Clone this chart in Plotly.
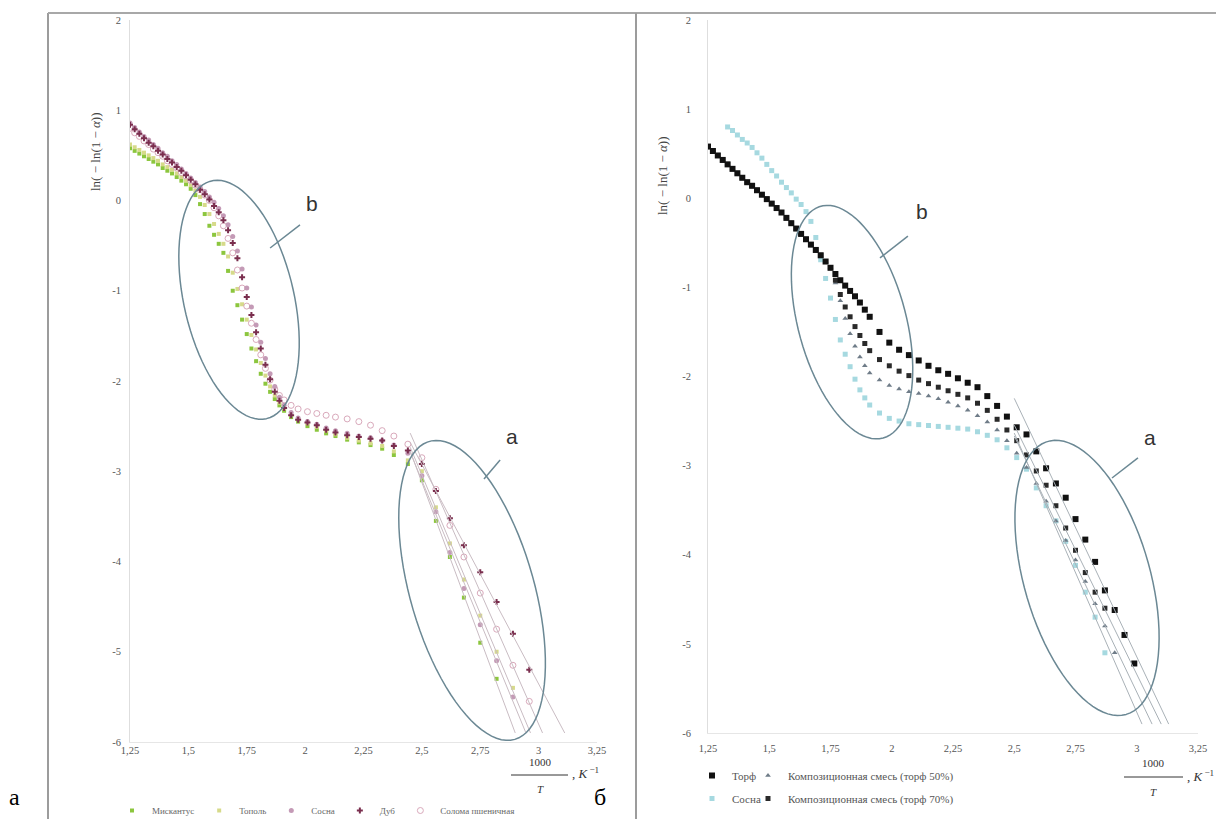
import numpy as np
import plotly.graph_objects as go

# the page body adds an 8 px margin; the figure is sized and positioned to compensate
PAGE_OFF = 8
W, H = 1224 - PAGE_OFF, 819 - PAGE_OFF

# ---------------- data ----------------
x_ticks = [1.25, 1.5, 1.75, 2.0, 2.25, 2.5, 2.75, 3.0, 3.25]
x_ticktext = ["1,25", "1,5", "1,75", "2", "2,25", "2,5", "2,75", "3", "3,25"]
y_ticks = [-6, -5, -4, -3, -2, -1, 0, 1, 2]
y_ticktext = ["-6", "-5", "-4", "-3", "-2", "-1", "0", "1", "2"]

# left panel (а): 1000/T grid and ln(-ln(1-a)) values
x_left = [1.25, 1.27, 1.29, 1.31, 1.33, 1.35, 1.37, 1.39, 1.41, 1.43,
          1.45, 1.47, 1.49, 1.51, 1.53, 1.55, 1.57, 1.59, 1.61, 1.63,
          1.65, 1.67, 1.69, 1.71, 1.73, 1.75, 1.77, 1.79, 1.81, 1.83,
          1.85, 1.87, 1.89, 1.91, 1.94, 1.97, 2.01, 2.05, 2.09, 2.13,
          2.18, 2.23, 2.28, 2.33, 2.38, 2.44, 2.50, 2.56, 2.62, 2.68,
          2.75, 2.82, 2.89, 2.96]
miscanthus = [0.58, 0.55, 0.52, 0.49, 0.46, 0.43, 0.40, 0.36, 0.33, 0.30,
              0.26, 0.22, 0.18, 0.13, 0.06, -0.04, -0.15, -0.28, -0.38, -0.48,
              -0.58, -0.78, -1.00, -1.16, -1.32, -1.48, -1.64, -1.78, -1.92, -2.03,
              -2.12, -2.20, -2.27, -2.33, -2.40, -2.45, -2.50, -2.54, -2.58, -2.61,
              -2.65, -2.68, -2.71, -2.75, -2.82, -2.92, -3.10, -3.55, -3.95, -4.40,
              -4.90, -5.30, None, None]
poplar = [0.62, 0.59, 0.56, 0.53, 0.50, 0.47, 0.44, 0.40, 0.37, 0.34,
          0.30, 0.26, 0.22, 0.17, 0.11, 0.04, -0.05, -0.15, -0.26, -0.37,
          -0.48, -0.62, -0.80, -0.98, -1.15, -1.32, -1.49, -1.65, -1.80, -1.94,
          -2.06, -2.16, -2.24, -2.30, -2.37, -2.42, -2.47, -2.51, -2.55, -2.59,
          -2.63, -2.66, -2.69, -2.72, -2.78, -2.88, -3.00, -3.40, -3.80, -4.20,
          -4.60, -5.00, -5.40, None]
pine_left = [0.86, 0.81, 0.76, 0.71, 0.67, 0.62, 0.58, 0.53, 0.49, 0.44,
             0.40, 0.35, 0.30, 0.25, 0.20, 0.15, 0.10, 0.04, -0.02, -0.09,
             -0.17, -0.27, -0.40, -0.56, -0.76, -0.97, -1.18, -1.38, -1.57, -1.75,
             -1.92, -2.06, -2.18, -2.27, -2.35, -2.41, -2.45, -2.48, -2.52, -2.55,
             -2.58, -2.61, -2.63, -2.66, -2.71, -2.80, -3.05, -3.45, -3.90, -4.30,
             -4.70, -5.10, -5.50, None]
oak = [0.84, 0.79, 0.74, 0.69, 0.64, 0.60, 0.55, 0.51, 0.46, 0.42,
       0.37, 0.33, 0.28, 0.23, 0.18, 0.12, 0.07, 0.01, -0.06, -0.13,
       -0.22, -0.33, -0.47, -0.64, -0.85, -1.07, -1.27, -1.46, -1.64, -1.82,
       -1.98, -2.12, -2.22, -2.30, -2.38, -2.43, -2.46, -2.49, -2.54, -2.57,
       -2.60, -2.62, -2.64, -2.66, -2.72, -2.77, -2.92, -3.22, -3.52, -3.82,
       -4.12, -4.45, -4.80, -5.20]
straw = [0.80, 0.75, 0.71, 0.66, 0.62, 0.57, 0.53, 0.49, 0.44, 0.40,
         0.36, 0.31, 0.27, 0.22, 0.17, 0.12, 0.06, 0.00, -0.08, -0.17,
         -0.28, -0.42, -0.58, -0.77, -0.97, -1.17, -1.36, -1.54, -1.71, -1.86,
         -1.99, -2.09, -2.16, -2.21, -2.27, -2.31, -2.34, -2.36, -2.38, -2.40,
         -2.42, -2.45, -2.49, -2.55, -2.61, -2.70, -2.85, -3.20, -3.60, -3.95,
         -4.35, -4.75, -5.15, -5.55]

# right panel (б)
x_right = [1.25, 1.27, 1.29, 1.31, 1.33, 1.35, 1.37, 1.39, 1.41, 1.43,
           1.45, 1.47, 1.49, 1.51, 1.53, 1.55, 1.57, 1.59, 1.61, 1.63,
           1.65, 1.67, 1.69, 1.71, 1.73, 1.75, 1.77, 1.79, 1.81, 1.83,
           1.85, 1.87, 1.89, 1.91, 1.95, 1.99, 2.03, 2.07, 2.11, 2.15,
           2.19, 2.23, 2.27, 2.31, 2.35, 2.39, 2.43, 2.47, 2.51, 2.55,
           2.59, 2.63, 2.67, 2.71, 2.75, 2.79, 2.83, 2.87, 2.91, 2.95, 2.99]
peat = [0.58, 0.53, 0.48, 0.43, 0.38, 0.33, 0.28, 0.23, 0.18, 0.14,
        0.09, 0.04, -0.01, -0.06, -0.11, -0.16, -0.22, -0.28, -0.34, -0.40,
        -0.46, -0.52, -0.58, -0.64, -0.71, -0.78, -0.85, -0.92, -0.98, -1.04,
        -1.10, -1.17, -1.25, -1.33, -1.50, -1.62, -1.70, -1.76, -1.82, -1.88,
        -1.93, -1.97, -2.02, -2.07, -2.12, -2.22, -2.33, -2.45, -2.57, -2.65,
        -2.84, -3.03, -3.20, -3.36, -3.60, -3.83, -4.08, -4.40, -4.62, -4.90, -5.22]
mix50 = [0.58, 0.53, 0.48, 0.43, 0.38, 0.33, 0.28, 0.23, 0.18, 0.14,
         0.09, 0.04, -0.01, -0.06, -0.11, -0.16, -0.22, -0.28, -0.34, -0.40,
         -0.46, -0.52, -0.58, -0.64, -0.71, -0.78, -0.95, -1.15, -1.35, -1.52,
         -1.66, -1.78, -1.88, -1.96, -2.04, -2.10, -2.14, -2.17, -2.19, -2.22,
         -2.25, -2.29, -2.33, -2.38, -2.44, -2.51, -2.60, -2.72, -2.86, -3.02,
         -3.20, -3.40, -3.62, -3.84, -4.06, -4.30, -4.55, -4.80, -5.10, None, None]
pine_right = [None, None, None, None, 0.80, 0.76, 0.71, 0.66, 0.62, 0.57,
              0.51, 0.45, 0.38, 0.31, 0.25, 0.18, 0.12, 0.06, -0.01, -0.07,
              -0.15, -0.26, -0.44, -0.69, -0.90, -1.12, -1.36, -1.59, -1.75, -1.89,
              -2.03, -2.15, -2.24, -2.32, -2.41, -2.47, -2.50, -2.53, -2.54, -2.55,
              -2.56, -2.57, -2.58, -2.59, -2.62, -2.66, -2.71, -2.80, -2.91, -3.04,
              -3.25, -3.45, -3.62, -3.85, -4.12, -4.42, -4.70, -5.10, None, None, None]
mix70 = [0.58, 0.53, 0.48, 0.43, 0.38, 0.33, 0.28, 0.23, 0.18, 0.14,
         0.09, 0.04, -0.01, -0.06, -0.11, -0.16, -0.22, -0.28, -0.34, -0.40,
         -0.46, -0.52, -0.58, -0.64, -0.71, -0.78, -0.92, -1.08, -1.22, -1.33,
         -1.44, -1.54, -1.63, -1.71, -1.81, -1.88, -1.94, -1.99, -2.04, -2.08,
         -2.12, -2.16, -2.20, -2.24, -2.30, -2.38, -2.48, -2.60, -2.72, -2.88,
         -3.06, -3.22, -3.45, -3.70, -3.95, -4.20, -4.42, -4.60, None, None, None]

# ---------------- layout geometry (screen pixels) ----------------
L_X0, L_X1, L_Y0, L_Y1 = 130, 597, 20, 742
R_X0, R_X1, R_Y0, R_Y1 = 708, 1198, 20, 733
X_RANGE = [1.25, 3.25]
Y_RANGE = [-6, 2]
TREND_END_Y = -5.9

SERIF = "Liberation Serif"
SANS = "Liberation Sans"


def px(xp):
    return (xp - PAGE_OFF) / W


def py(yp):
    return 1 - (yp - PAGE_OFF) / H


def trend(xs, ys, xmin):
    pts = [(a, b) for a, b in zip(xs, ys) if b is not None and a >= xmin]
    m, c = np.polyfit([p[0] for p in pts], [p[1] for p in pts], 1)
    x0 = pts[0][0] - 0.05
    x1 = (TREND_END_Y - c) / m
    return [x0, x1], [m * x0 + c, m * x1 + c]


fig = go.Figure()

left_series = [
    ("Мискантус", miscanthus, dict(symbol="square", size=4, color="#8cc63e"), 1),
    ("Тополь", poplar, dict(symbol="square", size=4, color="#d6da8a"), 2),
    ("Солома пшеничная", straw, dict(symbol="circle-open", size=6, color="#d9a9bb", line=dict(width=1)), 5),
    ("Сосна", pine_left, dict(symbol="circle", size=5, color="#c49ab6"), 3),
    ("Дуб", oak, dict(symbol="cross", size=5, color="#7a2e4e"), 4),
]
for name, ys, mk, rank in left_series:
    fig.add_trace(go.Scatter(x=x_left, y=ys, mode="markers", name=name, marker=mk,
                             xaxis="x", yaxis="y", legend="legend", legendrank=rank))
for name, ys, mk, rank in left_series:
    tx, ty = trend(x_left, ys, 2.49)
    fig.add_trace(go.Scatter(x=tx, y=ty, mode="lines", showlegend=False, hoverinfo="skip",
                             line=dict(color="#c9bcc3", width=1), xaxis="x", yaxis="y"))

right_series = [
    ("Сосна", pine_right, dict(symbol="square", size=5, color="#a6d9e0"), "legend2", 2),
    ("Композиционная смесь (торф 50%)", mix50, dict(symbol="triangle-up", size=5, color="#6f7c88"), "legend3", 1),
    ("Композиционная смесь (торф 70%)", mix70, dict(symbol="square", size=5, color="#2a2a2a"), "legend3", 2),
    ("Торф", peat, dict(symbol="square", size=6, color="#111111"), "legend2", 1),
]
for name, ys, mk, lg, rank in right_series:
    fig.add_trace(go.Scatter(x=x_right, y=ys, mode="markers", name=name, marker=mk,
                             xaxis="x2", yaxis="y2", legend=lg, legendrank=rank,
                             legendgroup=name))
for name, ys, mk, lg, rank in right_series:
    tx, ty = trend(x_right, ys, 2.55)
    fig.add_trace(go.Scatter(x=tx, y=ty, mode="lines", showlegend=False, hoverinfo="skip",
                             line=dict(color="#a9b1b7", width=1), xaxis="x2", yaxis="y2"))

# ---------------- ellipses (annotation shapes) ----------------
sxL = (L_X1 - L_X0) / (X_RANGE[1] - X_RANGE[0])
syL = (L_Y1 - L_Y0) / (Y_RANGE[1] - Y_RANGE[0])
sxR = (R_X1 - R_X0) / (X_RANGE[1] - X_RANGE[0])
syR = (R_Y1 - R_Y0) / (Y_RANGE[1] - Y_RANGE[0])


def ellipse_path(cx, cy, a, b, ang, sx, sy):
    t = np.linspace(0, 2 * np.pi, 90)
    th = np.radians(ang)
    dx = a * np.cos(t) * np.sin(th) + b * np.sin(t) * np.cos(th)
    dy = a * np.cos(t) * np.cos(th) - b * np.sin(t) * np.sin(th)
    xs = cx + dx / sx
    ys = cy - dy / sy
    return "M " + " L ".join(f"{x:.4f},{y:.4f}" for x, y in zip(xs, ys)) + " Z"


ell_color = "#6b8894"
shapes = [
    dict(type="path", path=ellipse_path(1.717, -1.10, 122, 55, 13, sxL, syL), xref="x", yref="y",
         line=dict(color=ell_color, width=1.5)),
    dict(type="path", path=ellipse_path(2.715, -4.32, 155, 62, 16, sxL, syL), xref="x", yref="y",
         line=dict(color=ell_color, width=1.5)),
    dict(type="path", path=ellipse_path(1.838, -1.39, 120, 54, 15, sxR, syR), xref="x2", yref="y2",
         line=dict(color=ell_color, width=1.5)),
    dict(type="path", path=ellipse_path(2.797, -4.26, 142, 63, 16, sxR, syR), xref="x2", yref="y2",
         line=dict(color=ell_color, width=1.5)),
    # leader lines
    dict(type="line", x0=1.978, y0=-0.271, x1=1.850, y1=-0.526, xref="x", yref="y",
         line=dict(color=ell_color, width=1.5)),
    dict(type="line", x0=2.835, y0=-2.875, x1=2.766, y1=-3.086, xref="x", yref="y",
         line=dict(color=ell_color, width=1.5)),
    dict(type="line", x0=2.066, y0=-0.424, x1=1.952, y1=-0.670, xref="x2", yref="y2",
         line=dict(color=ell_color, width=1.5)),
    dict(type="line", x0=3.005, y0=-2.914, x1=2.899, y1=-3.139, xref="x2", yref="y2",
         line=dict(color=ell_color, width=1.5)),
    # frame lines of the scanned figure
    dict(type="line", x0=px(48), x1=px(48), y0=py(13), y1=0, xref="paper", yref="paper",
         line=dict(color="#9c9c9c", width=2)),
    dict(type="line", x0=px(48), x1=1, y0=py(13), y1=py(13), xref="paper", yref="paper",
         line=dict(color="#a8a8a8", width=2)),
    dict(type="line", x0=px(636), x1=px(636), y0=py(13), y1=0, xref="paper", yref="paper",
         line=dict(color="#9c9c9c", width=2)),
    # fraction bars of the x-axis titles
    dict(type="line", x0=px(511), x1=px(568), y0=py(775), y1=py(775), xref="paper", yref="paper",
         line=dict(color="#333", width=1)),
    dict(type="line", x0=px(1124), x1=px(1183), y0=py(777), y1=py(777), xref="paper", yref="paper",
         line=dict(color="#333", width=1)),
]

ann = []
for txt, x, y, xr, yr in [("b", 2.029, -0.028, "x", "y"), ("a", 2.885, -2.62, "x", "y"),
                          ("b", 2.123, -0.154, "x2", "y2"), ("a", 3.054, -2.68, "x2", "y2")]:
    ann.append(dict(text=txt, x=x, y=y, xref=xr, yref=yr, showarrow=False,
                    font=dict(family=SANS, size=21, color="#333")))


def pann(text, xp, yp, size, family=SERIF, color="#333", angle=0, xanchor="center"):
    return dict(text=text, x=px(xp), y=py(yp), xref="paper", yref="paper", showarrow=False,
                font=dict(family=family, size=size, color=color), textangle=angle,
                xanchor=xanchor, yanchor="middle")


ann += [
    pann("ln( − ln(1 − <i>α</i>))", 96, 152, 13, color="#444", angle=-90),
    pann("ln( − ln(1 − <i>α</i>))", 662, 176, 13, color="#444", angle=-90),
    pann("1000", 540, 762, 11),
    pann("<i>T</i>", 540, 789, 11),
    pann(", <i>K</i><sup> −1</sup>", 570, 773, 13, xanchor="left"),
    pann("1000", 1153, 763, 11),
    pann("<i>T</i>", 1153, 792, 11),
    pann(", <i>K</i><sup> −1</sup>", 1185, 776, 13, xanchor="left"),
    pann("а", 14, 797, 24, color="#000"),
    pann("б", 600, 797, 24, color="#000"),
]

tickfont = dict(family=SERIF, size=10.5, color="#555")
xaxis_common = dict(range=X_RANGE, tickvals=x_ticks, ticktext=x_ticktext, showgrid=False,
                    zeroline=False, showline=True, linecolor="#e6e6e6", linewidth=1, ticks="",
                    tickfont=tickfont, fixedrange=True, automargin=False)
yaxis_common = dict(range=Y_RANGE, tickvals=y_ticks, ticktext=y_ticktext, showgrid=False,
                    zeroline=False, showline=True, linecolor="#dedede", linewidth=1, ticks="",
                    tickfont=tickfont, fixedrange=True, automargin=False)

legend_font_l = dict(family=SERIF, size=9, color="#666")
legend_font_r = dict(family=SERIF, size=11, color="#555")

fig.update_layout(
    width=W, height=H,
    margin=dict(l=0, r=0, t=0, b=0, pad=0, autoexpand=False),
    paper_bgcolor="white", plot_bgcolor="white",
    xaxis=dict(domain=[px(L_X0), px(L_X1)], anchor="y", ticklabelstandoff=-2, **xaxis_common),
    yaxis=dict(domain=[py(L_Y1), py(L_Y0)], anchor="x", ticklabelstandoff=6, **yaxis_common),
    xaxis2=dict(domain=[px(R_X0), px(R_X1)], anchor="y2", ticklabelstandoff=5, **xaxis_common),
    yaxis2=dict(domain=[py(R_Y1), py(R_Y0)], anchor="x2", ticklabelstandoff=14, **yaxis_common),
    legend=dict(orientation="h", x=px(112), y=py(796), xanchor="left", yanchor="top",
                font=legend_font_l, bgcolor="rgba(0,0,0,0)", itemwidth=30),
    legend2=dict(orientation="v", x=px(692), y=py(761), xanchor="left", yanchor="top",
                 font=legend_font_r, bgcolor="rgba(0,0,0,0)", itemwidth=30,
                 tracegroupgap=4),
    legend3=dict(orientation="v", x=px(748), y=py(761), xanchor="left", yanchor="top",
                 font=legend_font_r, bgcolor="rgba(0,0,0,0)", itemwidth=30,
                 tracegroupgap=4),
    shapes=shapes,
    annotations=ann,
    showlegend=True,
)

fig.write_html("out.html")
